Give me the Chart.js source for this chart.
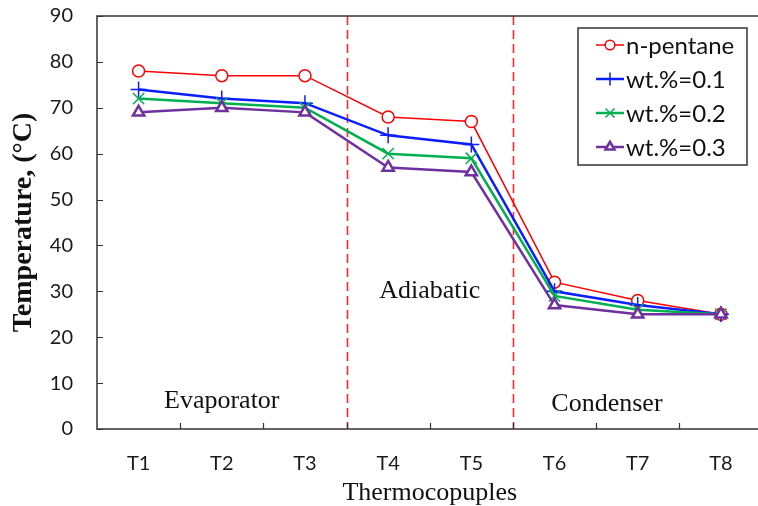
<!DOCTYPE html>
<html>
<head>
<meta charset="utf-8">
<script src="https://cdn.jsdelivr.net/npm/chart.js@4.4.1/dist/chart.umd.min.js"></script>
<style>
  html, body { margin: 0; padding: 0; background: #fff; overflow: hidden; }
  #wrap { width: 772px; height: 506px; }
</style>
</head>
<body>
<div id="wrap"><canvas id="chart"></canvas></div>
<script>
const sensors = ["T1", "T2", "T3", "T4", "T5", "T6", "T7", "T8"];
const pentane = [78, 77, 77, 68, 67, 32, 28, 25];
const wt01 = [74, 72, 71, 64, 62, 30, 27, 25];
const wt02 = [72, 71, 70, 60, 59, 29, 26, 25];
const wt03 = [69, 70, 69, 57, 56, 27, 25, 25];
const seriesNames = ["n-pentane", "wt.%=0.1", "wt.%=0.2", "wt.%=0.3"];
const sectionNames = ["Evaporator", "Adiabatic", "Condenser"];

const serif = "'Liberation Serif', 'Times New Roman', serif";
const sans = "Lato, 'Liberation Sans', sans-serif";

// frame, inward ticks, section dividers and section names
const decorations = {
  id: "decorations",
  beforeDatasetsDraw(chart) {
    const { ctx, chartArea, scales } = chart;
    const x = scales.x;
    // dashed dividers between evaporator / adiabatic / condenser
    ctx.save();
    ctx.strokeStyle = "#ff2a2a";
    ctx.lineWidth = 1.6;
    ctx.setLineDash([9, 5]);
    [2.5, 4.5].forEach((v) => {
      const px = Math.round(x.getPixelForValue(v)) + 0.5;
      ctx.beginPath();
      ctx.moveTo(px, chartArea.top);
      ctx.lineTo(px, chartArea.bottom);
      ctx.stroke();
    });
    ctx.restore();

    ctx.save();
    ctx.fillStyle = "#111";
    ctx.font = `26px ${serif}`;
    ctx.textAlign = "center";
    ctx.textBaseline = "middle";
    const spots = [[1, 6], [3.5, 30], [5.63, 5.5]];
    sectionNames.forEach((name, i) => {
      const [sx, sy] = spots[i];
      ctx.fillText(name, x.getPixelForValue(sx), scales.y.getPixelForValue(sy));
    });
    ctx.restore();
  },
  afterDraw(chart) {
    const { ctx, chartArea, scales } = chart;
    const { left, top, right, bottom } = chartArea;
    ctx.save();
    ctx.strokeStyle = "#333";
    ctx.lineWidth = 1.5;
    ctx.strokeRect(left, top, right - left, bottom - top);
    ctx.lineWidth = 1.2;
    ctx.beginPath();
    scales.y.ticks.forEach((t) => {
      const py = Math.round(scales.y.getPixelForValue(t.value)) + 0.5;
      ctx.moveTo(left, py);
      ctx.lineTo(left + 6, py);
    });
    for (let i = 0; i < sensors.length - 1; i++) {
      const px = Math.round(scales.x.getPixelForValue(i + 0.5)) + 0.5;
      ctx.moveTo(px, bottom);
      ctx.lineTo(px, bottom - 6);
    }
    ctx.stroke();
    ctx.restore();
  },
};

// boxed legend with line + marker samples
const boxLegend = {
  id: "boxLegend",
  afterDraw(chart) {
    const { ctx } = chart;
    const box = { x: 578, y: 28, w: 169, h: 137 };
    ctx.save();
    ctx.fillStyle = "#fff";
    ctx.fillRect(box.x, box.y, box.w, box.h);
    ctx.strokeStyle = "#333";
    ctx.lineWidth = 1.5;
    ctx.strokeRect(box.x, box.y, box.w, box.h);
    ctx.font = `24px ${sans}`;
    ctx.textBaseline = "middle";
    chart.data.datasets.forEach((ds, i) => {
      const cy = box.y + 17 + i * 34;
      ctx.strokeStyle = ds.borderColor;
      ctx.lineWidth = ds.borderWidth;
      ctx.beginPath();
      ctx.moveTo(box.x + 18, cy);
      ctx.lineTo(box.x + 46, cy);
      ctx.stroke();
      ctx.fillStyle = "#fff";
      ctx.lineWidth = ds.pointBorderWidth;
      Chart.helpers.drawPoint(ctx, {
        pointStyle: ds.pointStyle,
        radius: ds.pointRadius * 0.8,
        rotation: 0,
        borderWidth: ds.pointBorderWidth,
      }, box.x + 32, cy);
      ctx.fillStyle = "#111";
      ctx.fillText(ds.label, box.x + 48, cy + 1);
    });
    ctx.restore();
  },
};

const makeSeries = (label, data, color, width, style, radius, order) => ({
  label,
  data,
  borderColor: color,
  borderWidth: width,
  pointStyle: style,
  pointRadius: radius,
  pointBorderColor: color,
  pointBackgroundColor: "#fff",
  pointBorderWidth: style === "triangle" ? 2.5 : 1.5,
  tension: 0,
  order,
});

new Chart(document.getElementById("chart"), {
  type: "line",
  data: {
    labels: sensors,
    datasets: [
      makeSeries(seriesNames[0], pentane, "#ff0000", 1.5, "circle", 6, 4),
      makeSeries(seriesNames[1], wt01, "#0a1eff", 2.5, "cross", 8, 3),
      makeSeries(seriesNames[2], wt02, "#00b050", 2.5, "crossRot", 8, 2),
      makeSeries(seriesNames[3], wt03, "#7030a0", 2.5, "triangle", 6.5, 1),
    ],
  },
  options: {
    responsive: true,
    maintainAspectRatio: false,
    animation: false,
    layout: { padding: { top: 16, right: 3, left: 0, bottom: 0 } },
    plugins: {
      legend: { display: false },
      tooltip: { enabled: false },
    },
    scales: {
      x: {
        offset: true,
        grid: { display: false },
        border: { display: false },
        ticks: {
          color: "#1a1a1a",
          font: { family: sans, size: 20 },
          padding: 15,
          maxRotation: 0,
        },
        title: {
          display: true,
          text: "Thermocopuples",
          color: "#111",
          font: { family: serif, size: 26, lineHeight: 1 },
          padding: { top: 2, bottom: 0 },
        },
        afterFit: (scale) => {
          scale.height = 77;
          scale.paddingLeft = 0;
          scale.paddingRight = 0;
        },
      },
      y: {
        min: 0,
        max: 90,
        grid: { display: false },
        border: { display: false },
        ticks: {
          stepSize: 10,
          color: "#1a1a1a",
          font: { family: sans, size: 20 },
          padding: 16,
        },
        title: {
          display: true,
          text: "Temperature, (°C)",
          color: "#111",
          font: { family: serif, size: 28, weight: "bold", lineHeight: 1 },
          padding: { top: 10, bottom: 0 },
        },
        afterFit: (scale) => {
          scale.width = 97;
          scale.paddingTop = 0;
          scale.paddingBottom = 0;
        },
      },
    },
  },
  plugins: [decorations, boxLegend],
});
</script>
</body>
</html>
